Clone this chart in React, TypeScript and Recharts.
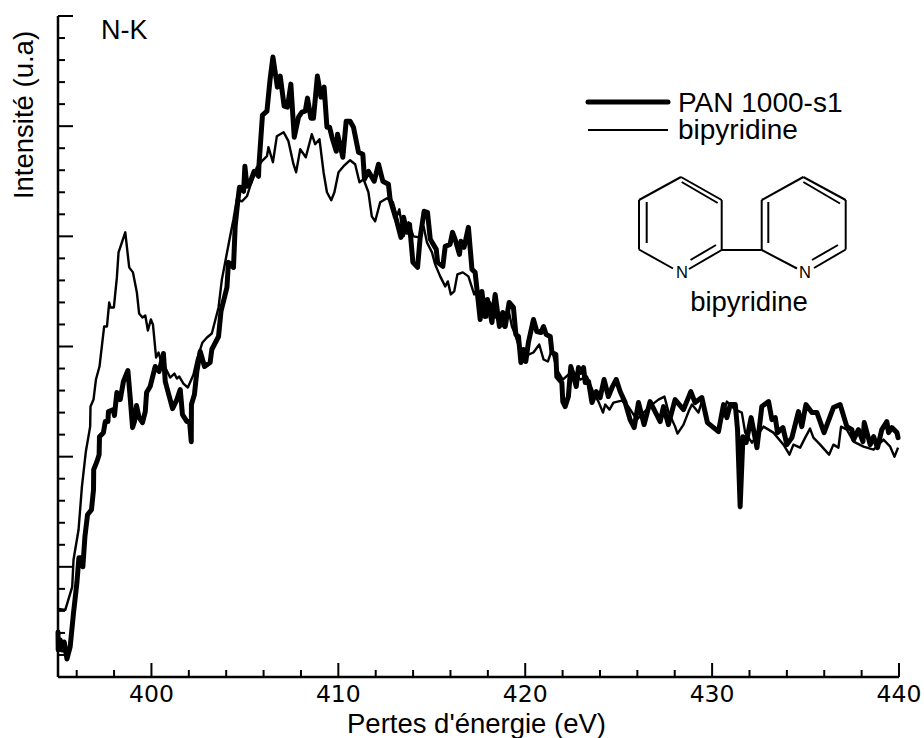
import React from "react";
import { LineChart, Line, XAxis, YAxis } from "recharts";

const FONT = "'Liberation Sans', Arial, sans-serif";
const TICK_FONT = "'DejaVu Sans', sans-serif";

const panName = "PAN 1000-s1";
const bipyName = "bipyridine";
const xTitle = "Pertes d'énergie (eV)";
const yTitle = "Intensité (u.a)";
const edgeLabel = "N-K";

const xTicks = [396,398,400,402,404,406,408,410,412,414,416,418,420,422,424,426,428,430,432,434,436,438,440];
const xMajor = [400,410,420,430,440];
const yTicks = [0,22,44,66,88,110,132,154,176,198,220,242,264,286,308,330,352,374,396,418,440,462,484,506,528,550,572,594,616,638,660];
const yMajor = [0,110,220,330,440,550,660];

const panEnergy = [395,395.01,395.12,395.22,395.33,395.48,395.65,395.83,396.01,396.12,396.23,396.33,396.44,396.58,396.79,396.9,396.91,397.08,397.2,397.22,397.43,397.53,397.67,397.7,397.97,398.02,398.15,398.33,398.5,398.74,398.88,398.99,399.09,399.2,399.34,399.52,399.67,399.74,399.93,400.2,400.41,400.64,400.74,401.13,401.36,401.54,401.66,401.9,402.04,402.13,402.14,402.3,402.43,402.61,402.84,403.14,403.23,403.59,403.72,404.04,404.12,404.39,404.48,404.62,404.71,404.75,404.93,405,405.11,405.28,405.5,405.73,405.75,405.94,406.18,406.35,406.5,406.62,406.74,406.89,407.1,407.28,407.46,407.64,407.87,408.05,408.23,408.35,408.53,408.67,408.88,409.07,409.24,409.39,409.53,409.66,409.89,409.96,410.24,410.42,410.63,410.81,411.08,411.31,411.4,411.61,411.92,412.15,412.38,412.68,412.77,413.04,413.1,413.35,413.49,413.67,413.81,413.99,414.24,414.38,414.59,414.77,414.92,415.24,415.31,415.59,415.72,415.98,416.11,416.25,416.48,416.56,416.73,416.96,417.15,417.32,417.59,417.68,417.85,417.98,418.22,418.39,418.62,418.8,418.93,419.14,419.37,419.5,419.64,419.77,419.91,420.03,420.17,420.44,420.62,420.84,420.98,421.12,421.34,421.43,421.64,421.69,421.96,422.01,422.14,422.31,422.44,422.73,422.85,422.94,423.12,423.21,423.39,423.57,423.8,424.01,424.22,424.45,424.67,424.87,425.08,425.35,425.61,425.83,426.06,426.36,426.68,427.22,427.4,427.66,428.02,428.47,428.86,429.09,429.45,429.75,430.34,430.61,430.79,430.97,431.24,431.36,431.5,431.65,431.82,432.09,432.4,432.66,433.02,433.2,433.38,433.5,433.79,434,434.27,434.62,434.8,435.02,435.34,435.61,435.99,436.49,436.85,437.21,437.48,437.57,437.83,438.07,438.14,438.46,438.64,438.85,439.08,439.35,439.44,439.62,439.89,439.95];
const panIntensity = [45,27,37,27,35,18,30,64,94,119,119,110,140,162,167,187,207,215,222,240,244,255,255,265,267,261,284,277,295,306,275,249,255,271,259,254,265,284,290,310,305,323,295,268,277,287,262,255,255,235,272,282,305,325,310,314,327,340,365,389,414,409,450,475,489,489,485,510,490,494,505,500,510,561,565,597,619,604,589,600,570,569,592,539,559,564,565,578,558,558,600,579,589,549,549,539,525,542,519,555,555,549,524,522,497,505,495,512,495,492,477,460,457,439,459,444,452,414,409,439,465,464,437,427,414,410,430,432,444,437,422,435,429,449,407,404,357,385,360,377,354,382,350,364,350,374,369,342,340,314,327,315,334,357,345,344,350,342,340,324,322,300,294,275,270,280,310,290,309,304,309,294,295,274,285,279,297,280,290,297,285,274,257,249,274,252,275,255,270,252,277,267,285,274,279,254,245,272,259,272,272,247,170,240,234,259,229,270,275,257,259,244,249,232,239,265,250,272,264,264,244,269,272,250,247,237,247,235,254,232,240,229,247,255,244,249,244,239];

const bipyEnergy = [395.03,395.39,395.76,395.83,396.1,396.28,396.49,396.72,396.74,396.9,397.03,397.22,397.47,397.62,397.74,397.81,397.99,398.15,398.24,398.6,398.81,399.01,399.22,399.34,399.52,399.67,399.81,399.97,400.08,400.25,400.38,400.56,400.74,401,401.23,401.36,401.49,401.71,401.95,402.25,402.43,402.73,402.97,403.23,403.59,403.77,404.21,404.39,404.57,404.84,405.11,405.28,405.64,405.91,406.18,406.26,406.5,406.71,407.07,407.33,407.6,407.74,407.96,408.26,408.58,408.76,408.99,409.21,409.39,409.62,409.79,410.01,410.28,410.63,410.9,411.13,411.35,411.61,411.79,411.97,412.24,412.6,412.92,413.13,413.26,413.49,413.75,414.02,414.34,414.56,414.74,415.01,415.18,415.45,415.72,415.86,416.02,416.2,416.37,416.66,416.96,417.27,417.41,417.68,417.95,418.13,418.39,418.66,418.87,419.1,419.29,419.46,419.91,420.17,420.44,420.75,420.98,421.21,421.43,421.69,422.01,422.31,422.58,422.94,423.3,423.65,423.92,424.16,424.28,424.51,424.72,425.17,425.52,425.97,426.33,426.78,427.13,427.45,427.66,428.02,428.15,428.47,428.74,428.92,429.27,429.45,429.81,430.34,430.79,431.24,431.59,431.77,432.13,432.75,433.28,433.82,434.14,434.35,434.71,434.98,435.24,435.42,435.78,436.26,436.49,436.76,436.9,437.21,437.57,438.1,438.64,439.17,439.53,439.76,439.95];
const bipyIntensity = [68,67,90,117,147,190,225,250,270,277,297,310,350,350,374,369,369,399,424,444,409,404,384,363,359,361,346,357,352,319,324,312,309,299,303,298,300,293,289,302,317,334,339,343,369,397,440,457,477,475,480,490,509,515,520,529,514,540,544,535,512,504,527,519,542,532,537,504,484,476,484,504,510,516,512,494,497,484,460,455,474,478,474,460,467,440,454,440,439,450,434,424,412,400,390,395,382,385,402,404,400,382,387,374,359,374,360,354,349,367,350,342,315,322,324,332,317,315,327,307,297,302,305,297,300,284,275,264,272,267,274,276,270,257,264,272,277,280,265,250,243,252,265,272,264,275,252,247,275,267,264,244,234,250,244,232,222,232,229,239,248,239,232,222,232,229,250,247,235,230,227,237,230,220,229];

const toRows = (xs: number[], ys: number[]) => xs.map((energy, i) => ({ energy, intensity: ys[i] }));
const panRows = toRows(panEnergy, panIntensity);
const bipyRows = toRows(bipyEnergy, bipyIntensity);

const XTick = (p: any) => {
  const major = xMajor.includes(p.payload.value);
  return (
    <g>
      <line x1={p.x} x2={p.x} y1={677} y2={677 - (major ? 14 : 7)} stroke="#000" strokeWidth={2} />
      {major && (
        <text x={p.x} y={702} textAnchor="middle" fontFamily={TICK_FONT} fontSize={23.5} fill="#000">{p.payload.value}</text>
      )}
    </g>
  );
};

const YTick = (p: any) => {
  const major = yMajor.includes(p.payload.value);
  return <line x1={58} x2={58 + (major ? 15 : 7)} y1={p.y} y2={p.y} stroke="#000" strokeWidth={2} />;
};

const bonds = [
  [639,200,681,177],[681,177,721.7,200],[721.7,200,721.7,250],[721.7,250,689,269],[639,249.5,673,268.5],[639,200,639,249.5],
  [646.7,202,646.7,243],[681.7,182,717.7,203],[716,245,690.5,260],[721.7,250,761.7,250],
  [761.7,200,803.3,177],[803.3,177,845.7,200],[845.7,200,845.7,249.5],[845.7,249.5,814,268],[761.7,250,797,268.5],[761.7,200,761.7,250],
  [768.3,202,768.3,243],[803.3,182,840,203.5],[838,245,812,260],
];

export default function App() {
  return (
    <div style={{ position: "absolute", left: 0, top: 0, width: 924, height: 738, background: "#fff" }}>
      <LineChart width={924} height={738} margin={{ top: 16, right: 25, bottom: 60, left: 57 }}>
        <XAxis type="number" dataKey="energy" domain={[395, 440]} ticks={xTicks} interval={0} height={1} tickSize={0} tickMargin={0} tickLine={false} axisLine={{ stroke: "#000", strokeWidth: 2.5 }} tick={XTick} />
        <YAxis type="number" dataKey="intensity" domain={[0, 660]} ticks={yTicks} interval={0} width={1} tickSize={0} tickMargin={0} tickLine={false} axisLine={{ stroke: "#000", strokeWidth: 2.5 }} tick={YTick} />
        <Line data={bipyRows} dataKey="intensity" name={bipyName} type="linear" stroke="#000" strokeWidth={2.4} dot={false} isAnimationActive={false} strokeLinejoin="round" />
        <Line data={panRows} dataKey="intensity" name={panName} type="linear" stroke="#000" strokeWidth={5} dot={false} isAnimationActive={false} strokeLinejoin="round" strokeLinecap="round" />
      </LineChart>
      <svg width={924} height={738} style={{ position: "absolute", left: 0, top: 0, pointerEvents: "none" }} fontFamily={FONT} fill="#000">
        <text x={476.5} y={733} textAnchor="middle" fontSize={27.5}>{xTitle}</text>
        <text transform="translate(33,115) rotate(-90)" textAnchor="middle" fontSize={27.5}>{yTitle}</text>
        <text x={101} y={39} fontSize={27}>{edgeLabel}</text>
        <line x1={588} x2={668} y1={102} y2={102} stroke="#000" strokeWidth={5} strokeLinecap="round" />
        <line x1={588} x2={668} y1={130} y2={130} stroke="#000" strokeWidth={2} />
        <text x={678} y={112} fontSize={28}>{panName}</text>
        <text x={678} y={139} fontSize={28}>{bipyName}</text>
        {bonds.map((b, i) => (
          <line key={i} x1={b[0]} y1={b[1]} x2={b[2]} y2={b[3]} stroke="#000" strokeWidth={2} />
        ))}
        <text x={682} y={278} textAnchor="middle" fontSize={16.5}>N</text>
        <text x={805} y={278} textAnchor="middle" fontSize={16.5}>N</text>
        <text x={749} y={311} textAnchor="middle" fontSize={27.5}>{bipyName}</text>
      </svg>
    </div>
  );
}
